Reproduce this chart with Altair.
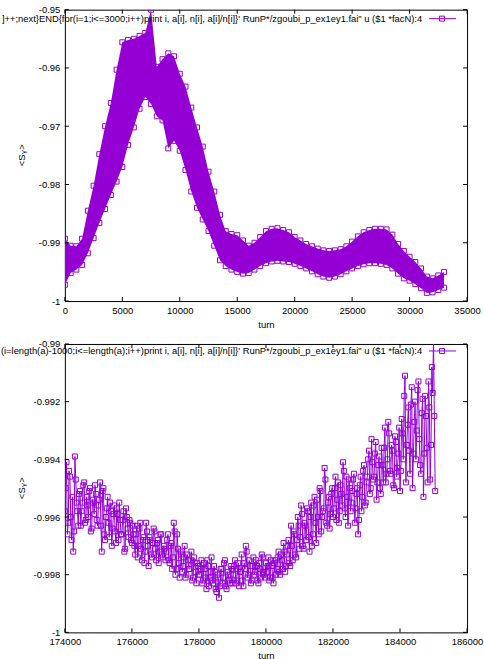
import altair as alt
import pandas as pd

PURPLE = "#9400d3"
FONT = "Liberation Sans"
FS = 9.5

# ---------------- top panel data (band envelope) -------------
turn_top = list(range(0, 33001, 500))
upper_top = [
    -0.9893, -0.9905, -0.9906, -0.9893, -0.9845, -0.9802, -0.9748, -0.9700, -0.9660, -0.9603,
    -0.9556, -0.9552, -0.9550, -0.9545, -0.9540, -0.9500, -0.9598, -0.9585, -0.9575, -0.9580,
    -0.9610, -0.9632, -0.9668, -0.9702, -0.9735, -0.9778, -0.9812, -0.9852, -0.9880, -0.9885,
    -0.9887, -0.9896, -0.9905, -0.9900, -0.9890, -0.9880, -0.9876, -0.9875, -0.9878, -0.9882,
    -0.9890, -0.9896, -0.9902, -0.9906, -0.9910, -0.9913, -0.9914, -0.9913, -0.9911, -0.9906,
    -0.9898, -0.9889, -0.9882, -0.9878, -0.9876, -0.9876, -0.9877, -0.9886, -0.9902, -0.9914,
    -0.9924, -0.9933, -0.9944, -0.9958, -0.9961, -0.9956, -0.9950,
]
lower_top = [
    -0.9972, -0.9952, -0.9946, -0.9938, -0.9918, -0.9892, -0.9866, -0.9842, -0.9818, -0.9795,
    -0.9770, -0.9732, -0.9702, -0.9670, -0.9650, -0.9662, -0.9683, -0.9690, -0.9738, -0.9725,
    -0.9742, -0.9775, -0.9812, -0.9840, -0.9860, -0.9880, -0.9905, -0.9930, -0.9940, -0.9946,
    -0.9950, -0.9953, -0.9952, -0.9946, -0.9940, -0.9935, -0.9932, -0.9931, -0.9932, -0.9933,
    -0.9936, -0.9940, -0.9944, -0.9949, -0.9954, -0.9958, -0.9960, -0.9958, -0.9954, -0.9949,
    -0.9944, -0.9940, -0.9937, -0.9935, -0.9935, -0.9936, -0.9938, -0.9944, -0.9953, -0.9961,
    -0.9965, -0.9971, -0.9978, -0.9986, -0.9985, -0.9981, -0.9977,
]

# ---------------- bottom panel data (two interleaved reads) ----------------
turn_bot = list(range(174000, 185051, 50))
sy_bot = [
    -0.9958, -0.9941, -0.9962, -0.9946, -0.9968, -0.9972, -0.9939, -0.9955, -0.9963, -0.9951,
    -0.9958, -0.9949, -0.9962, -0.9953, -0.9960, -0.9950, -0.9964, -0.9955, -0.9949, -0.9961, -0.9956,
    -0.9948, -0.9972, -0.9950, -0.9968, -0.9957, -0.9962, -0.9955, -0.9970, -0.9959, -0.9965,
    -0.9957, -0.9968, -0.9961, -0.9966, -0.9958, -0.9971, -0.9960, -0.9967, -0.9962, -0.9969,
    -0.9966, -0.9973, -0.9963, -0.9970, -0.9962, -0.9975, -0.9967, -0.9972, -0.9965, -0.9977,
    -0.9968, -0.9974, -0.9964, -0.9971, -0.9969, -0.9976, -0.9966, -0.9973, -0.9970, -0.9975,
    -0.9968, -0.9975, -0.9970, -0.9978, -0.9962, -0.9980, -0.9966, -0.9976, -0.9972, -0.9979,
    -0.9974, -0.9981, -0.9973, -0.9978, -0.9975, -0.9982, -0.9974, -0.9979, -0.9976, -0.9980,
    -0.9978, -0.9983, -0.9976, -0.9981, -0.9975, -0.9984, -0.9979, -0.9982, -0.9977, -0.9985,
    -0.9980, -0.9988, -0.9978, -0.9983, -0.9976, -0.9984, -0.9979, -0.9982, -0.9977, -0.9983,
    -0.9977, -0.9983, -0.9978, -0.9984, -0.9979, -0.9982, -0.9976, -0.9970, -0.9981, -0.9975,
    -0.9983, -0.9977, -0.9980, -0.9975, -0.9982, -0.9976, -0.9981, -0.9974, -0.9980, -0.9976,
    -0.9977, -0.9982, -0.9975, -0.9981, -0.9976, -0.9980, -0.9974, -0.9979, -0.9973, -0.9978,
    -0.9972, -0.9977, -0.9970, -0.9976, -0.9963, -0.9975, -0.9966, -0.9974, -0.9960, -0.9971,
    -0.9956, -0.9970, -0.9962, -0.9968, -0.9958, -0.9972, -0.9955, -0.9966, -0.9953, -0.9969,
    -0.9960, -0.9950, -0.9965, -0.9958, -0.9943, -0.9962, -0.9955, -0.9964, -0.9952, -0.9960,
    -0.9950, -0.9961, -0.9948, -0.9958, -0.9952, -0.9941, -0.9957, -0.9946, -0.9963, -0.9950,
    -0.9955, -0.9947, -0.9962, -0.9952, -0.9966, -0.9949, -0.9958, -0.9944, -0.9956, -0.9948,
    -0.9940, -0.9952, -0.9933, -0.9947, -0.9938, -0.9954, -0.9942, -0.9950, -0.9936, -0.9948,
    -0.9929, -0.9945, -0.9927, -0.9944, -0.9935, -0.9949, -0.9932, -0.9946, -0.9938, -0.9951,
    -0.9926, -0.9940, -0.9911, -0.9935, -0.9922, -0.9945, -0.9915, -0.9938, -0.9920, -0.9930,
    -0.9913, -0.9942, -0.9924, -0.9953, -0.9918, -0.9936, -0.9913, -0.9947, -0.9908, -0.9898, -0.9951,
]
turn_bot_b = list(range(174025, 185026, 50))
sy_bot_b = [
    -0.9950, -0.9966, -0.9944, -0.9960, -0.9953, -0.9965, -0.9947, -0.9958, -0.9952, -0.9963,
    -0.9955, -0.9948, -0.9961, -0.9956, -0.9951, -0.9965, -0.9954, -0.9959, -0.9952, -0.9963,
    -0.9954, -0.9963, -0.9951, -0.9966, -0.9960, -0.9953, -0.9967, -0.9958, -0.9964, -0.9956,
    -0.9969, -0.9959, -0.9955, -0.9966, -0.9961, -0.9972, -0.9957, -0.9964, -0.9961, -0.9968,
    -0.9963, -0.9970, -0.9966, -0.9974, -0.9964, -0.9971, -0.9968, -0.9976, -0.9962, -0.9970,
    -0.9967, -0.9973, -0.9969, -0.9965, -0.9975, -0.9968, -0.9972, -0.9966, -0.9974, -0.9971,
    -0.9972, -0.9966, -0.9976, -0.9969, -0.9974, -0.9965, -0.9978, -0.9971, -0.9981, -0.9973,
    -0.9977, -0.9970, -0.9980, -0.9975, -0.9978, -0.9972, -0.9981, -0.9976, -0.9983, -0.9977,
    -0.9980, -0.9975, -0.9982, -0.9978, -0.9985, -0.9977, -0.9981, -0.9974, -0.9983, -0.9979,
    -0.9986, -0.9981, -0.9984, -0.9978, -0.9981, -0.9975, -0.9985, -0.9980, -0.9983, -0.9978,
    -0.9980, -0.9975, -0.9982, -0.9976, -0.9979, -0.9973, -0.9984, -0.9978, -0.9972, -0.9980,
    -0.9977, -0.9982, -0.9974, -0.9979, -0.9977, -0.9983, -0.9978, -0.9973, -0.9979, -0.9981,
    -0.9979, -0.9974, -0.9981, -0.9977, -0.9983, -0.9975, -0.9978, -0.9972, -0.9980, -0.9975,
    -0.9969, -0.9979, -0.9973, -0.9968, -0.9977, -0.9970, -0.9965, -0.9973, -0.9968, -0.9963,
    -0.9967, -0.9959, -0.9971, -0.9963, -0.9957, -0.9967, -0.9960, -0.9970, -0.9956, -0.9962,
    -0.9954, -0.9966, -0.9951, -0.9960, -0.9957, -0.9947, -0.9963, -0.9953, -0.9959, -0.9950,
    -0.9957, -0.9946, -0.9954, -0.9962, -0.9949, -0.9956, -0.9944, -0.9960, -0.9953, -0.9947,
    -0.9958, -0.9951, -0.9945, -0.9957, -0.9950, -0.9961, -0.9946, -0.9953, -0.9942, -0.9955,
    -0.9946, -0.9937, -0.9950, -0.9941, -0.9946, -0.9934, -0.9948, -0.9939, -0.9952, -0.9942,
    -0.9936, -0.9948, -0.9940, -0.9931, -0.9945, -0.9937, -0.9950, -0.9934, -0.9943, -0.9929,
    -0.9944, -0.9931, -0.9918, -0.9948, -0.9928, -0.9937, -0.9921, -0.9950, -0.9927, -0.9940,
    -0.9916, -0.9933, -0.9945, -0.9919, -0.9938, -0.9925, -0.9948, -0.9922, -0.9935, -0.9917,
    -0.9925,
]
assert len(turn_bot) == len(sy_bot)
assert len(turn_bot_b) == len(sy_bot_b)
assert len(turn_top) == len(upper_top) == len(lower_top)

# ---------------- ticks / text ----------------
xticks_top = [0, 5000, 10000, 15000, 20000, 25000, 30000, 35000]
yticks_top = [-1.0, -0.99, -0.98, -0.97, -0.96, -0.95]
xticks_bot = [174000, 176000, 178000, 180000, 182000, 184000, 186000]
yticks_bot = [-1.0, -0.998, -0.996, -0.994, -0.992, -0.99]

legend_top = "]++;next}END{for(i=1;i<=3000;i++)print i, a[i], n[i], a[i]/n[i]}' RunP*/zgoubi_p_ex1ey1.fai\" u ($1 *facN):4"
legend_bot = "(i=length(a)-1000;i<=length(a);i++)print i, a[i], n[i], a[i]/n[i]}' RunP*/zgoubi_p_ex1ey1.fai\" u ($1 *facN):4"
x_title = "turn"

one = pd.DataFrame({"k": [0]})


def panel(W, H, xdom, ydom, xticks, yticks, data_layers_fn, legend_text, legend_y):
    xs = alt.Scale(domain=xdom, nice=False, zero=False)
    ys = alt.Scale(domain=ydom, nice=False, zero=False)
    xaxis = alt.Axis(values=xticks, labelExpr="toString(datum.value)", ticks=False, domain=False,
                     grid=False, labelPadding=4, labelFontSize=FS, labelFont=FONT, labelColor="black",
                     labelFlush=False, labelOverlap=False, title=x_title, titleFont=FONT,
                     titleFontSize=FS, titleFontWeight="normal", titleColor="black",
                     titleY=23, titleBaseline="middle")
    yaxis = alt.Axis(values=yticks, labelExpr="toString(datum.value)", ticks=False, domain=False,
                     grid=False, labelPadding=5, labelFontSize=FS, labelFont=FONT, labelColor="black",
                     labelFlush=False, labelOverlap=False, title=None)

    def X(f):
        return alt.X(f, type="quantitative", scale=xs, axis=xaxis)

    def Y(f):
        return alt.Y(f, type="quantitative", scale=ys, axis=yaxis)

    layers = data_layers_fn(X, Y)

    dx = pd.DataFrame({"v": xticks})
    dy = pd.DataFrame({"v": yticks})
    tk = dict(color="black", strokeWidth=1)
    layers += [
        alt.Chart(dx).mark_rule(**tk).encode(x=X("v"), y=alt.value(H), y2=alt.value(H - 4)),
        alt.Chart(dx).mark_rule(**tk).encode(x=X("v"), y=alt.value(0), y2=alt.value(4)),
        alt.Chart(dy).mark_rule(**tk).encode(y=Y("v"), x=alt.value(0), x2=alt.value(4)),
        alt.Chart(dy).mark_rule(**tk).encode(y=Y("v"), x=alt.value(W - 4), x2=alt.value(W)),
    ]
    # legend
    layers += [
        alt.Chart(one).mark_text(text=legend_text, align="right", baseline="middle", fontSize=9.4,
                                 font=FONT, color="black").encode(x=alt.value(W - 45), y=alt.value(legend_y)),
        alt.Chart(one).mark_rule(color=PURPLE, strokeWidth=1).encode(
            x=alt.value(W - 38), x2=alt.value(W - 11), y=alt.value(legend_y)),
        alt.Chart(one).mark_point(shape="square", filled=False, size=25, strokeWidth=1, color=PURPLE,
                                  opacity=1).encode(x=alt.value(W - 25), y=alt.value(legend_y)),
    ]
    # y title  <S_Y>
    y0 = H / 2 + 11
    layers += [
        alt.Chart(one).mark_text(text="<S", angle=270, align="left", baseline="middle", fontSize=FS,
                                 font=FONT, color="black").encode(x=alt.value(-43), y=alt.value(y0)),
        alt.Chart(one).mark_text(text="Y", angle=270, align="left", baseline="middle", fontSize=6.5,
                                 font=FONT, color="black").encode(x=alt.value(-40), y=alt.value(y0 - 12)),
        alt.Chart(one).mark_text(text=">", angle=270, align="left", baseline="middle", fontSize=FS,
                                 font=FONT, color="black").encode(x=alt.value(-43), y=alt.value(y0 - 16.5)),
    ]
    return alt.layer(*layers).properties(width=W, height=H)


def top_layers(X, Y):
    df = pd.DataFrame({"turn": turn_top, "upper": upper_top, "lower": lower_top})
    pts = pd.DataFrame({"turn": turn_top + turn_top, "sy": upper_top + lower_top})
    return [
        alt.Chart(df).mark_area(color=PURPLE, opacity=1, clip=True).encode(
            x=X("turn"), y=Y("lower"), y2="upper"),
        alt.Chart(pts).mark_point(shape="square", filled=False, size=25, strokeWidth=1,
                                  color=PURPLE, opacity=1, clip=True).encode(x=X("turn"), y=Y("sy")),
    ]


def bot_layers(X, Y):
    df = pd.DataFrame({"turn": turn_bot + turn_bot_b, "sy": sy_bot + sy_bot_b})
    df = df.sort_values("turn").reset_index(drop=True)
    df["i"] = range(len(df))
    return [
        alt.Chart(df).mark_line(color=PURPLE, strokeWidth=1, clip=True).encode(
            x=X("turn"), y=Y("sy"), order="i:Q"),
        alt.Chart(df).mark_point(shape="square", filled=False, size=25, strokeWidth=1,
                                 color=PURPLE, opacity=1, clip=True).encode(x=X("turn"), y=Y("sy")),
    ]


W = 403
top = panel(W, 292, [0, 35000], [-1.0, -0.95], xticks_top, yticks_top, top_layers, legend_top, 9)
bot = panel(W, 289, [174000, 186000], [-1.0, -0.99], xticks_bot, yticks_bot, bot_layers, legend_bot, 7)

chart = alt.vconcat(top, bot, spacing=43, bounds="flush").properties(
    padding={"left": 1, "top": 3, "right": 0, "bottom": 0},
    background="white",
).configure_view(stroke="black", strokeWidth=1)

chart.save("out.html", embed_options={"renderer": "svg", "actions": False})
